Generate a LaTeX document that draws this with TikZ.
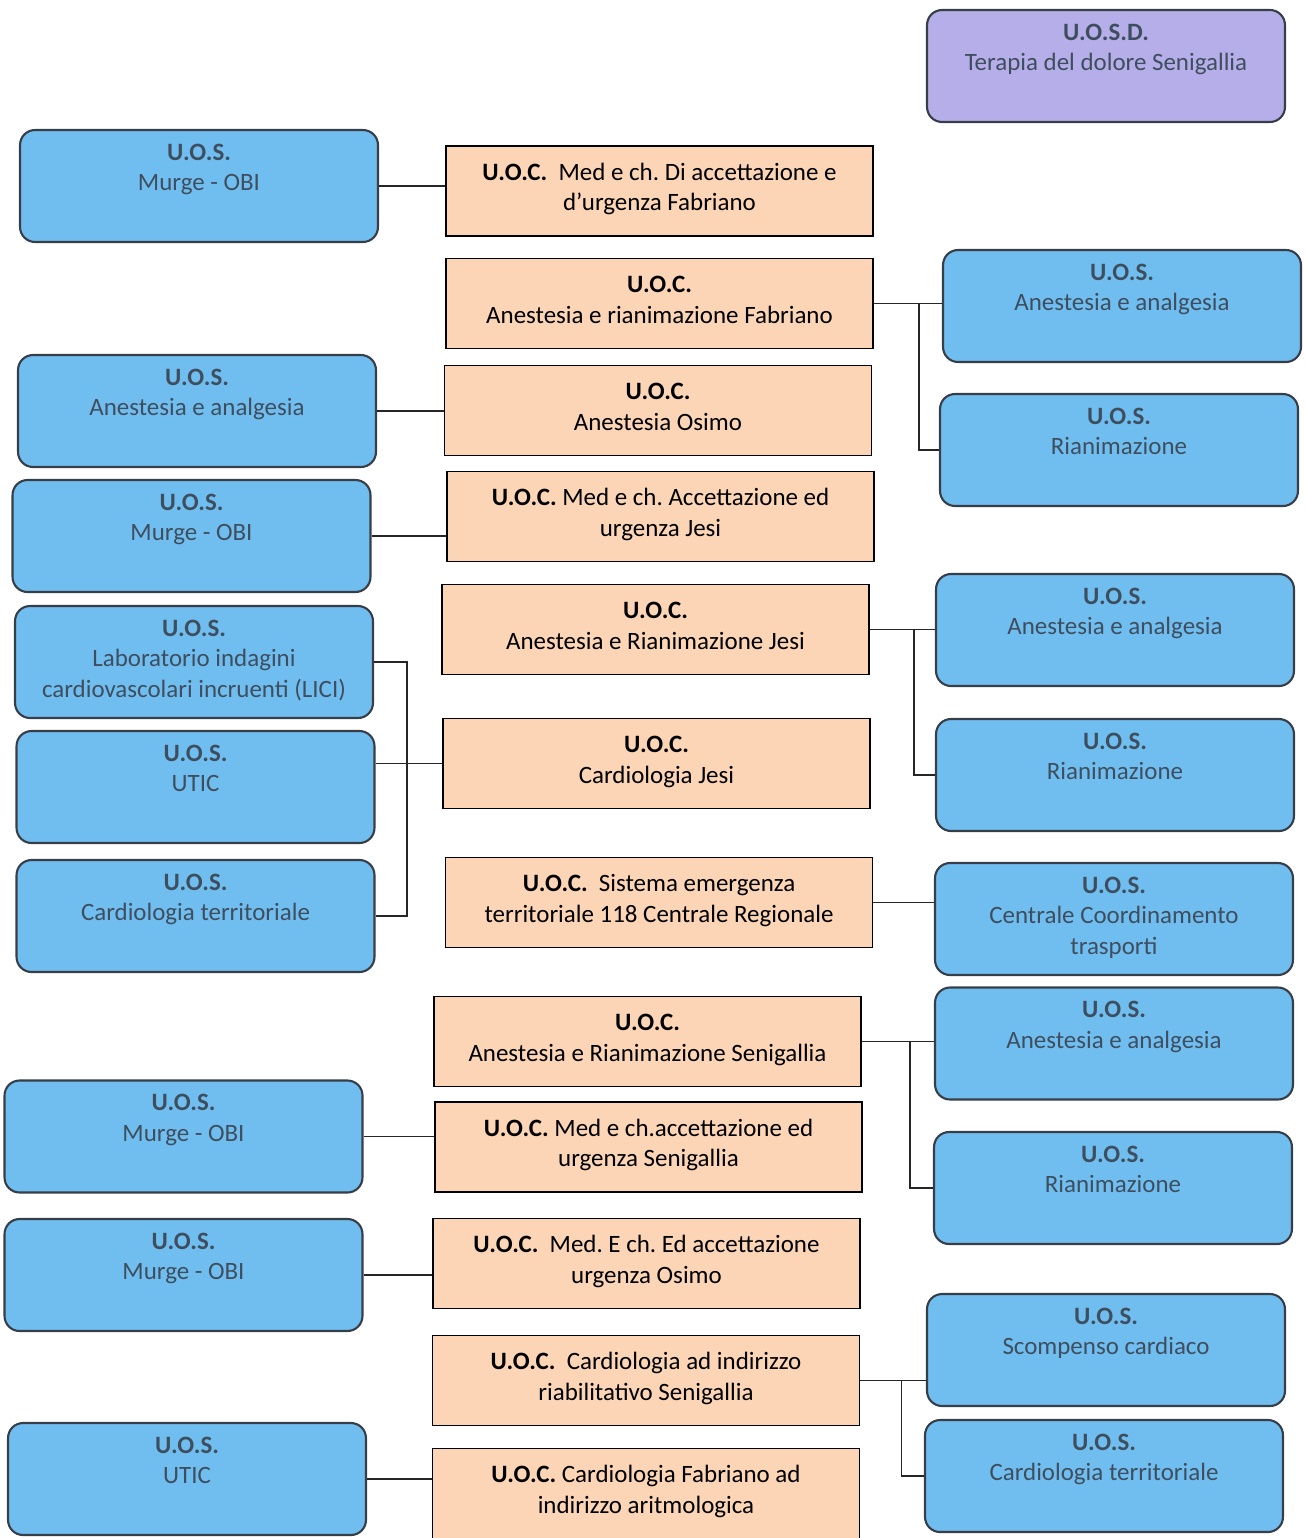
\documentclass[tikz,border=0pt]{standalone}
\usepackage{fontspec}
\setmainfont{Carlito}
\frenchspacing
\definecolor{uosblue}{RGB}{112,190,240}
\definecolor{uosline}{RGB}{55,62,72}
\definecolor{uostext}{RGB}{62,78,94}
\definecolor{uocorange}{RGB}{251,213,181}
\definecolor{uosdviolet}{RGB}{182,174,232}
\usetikzlibrary{arrows.meta, positioning, calc}

\begin{document}
\begin{tikzpicture}[
    x=0.02cm, y=-0.02cm,
    uos/.style={draw=uosline, line width=1.2pt, rounded corners=0.3cm, fill=uosblue, text=uostext,
        text width=7.16cm, align=flush center, inner sep=0pt, text height=0.6cm, text depth=1.64cm,
        font=\fontsize{14.2pt}{17.6pt}\selectfont},
    uosd/.style={uos, fill=uosdviolet},
    uoc/.style={draw=black, line width=1pt, fill=uocorange, text=black,
        text width=8.54cm, align=flush center, inner sep=0pt, text height=0.68cm, text depth=1.12cm,
        font=\fontsize{14.2pt}{17.6pt}\selectfont},
    link/.style={draw=black!85, line width=0.8pt}
]
    \useasboundingbox (0,0) rectangle (1305,1538);

    % Top right unit
    \node[uosd] (dolore) at (1106,66) {\textbf{U.O.S.D.}\\Terapia del dolore Senigallia};

    % U.O.C. column
    \node[uoc] (accfab) at (659.5,191) {\textbf{U.O.C.}\ \ Med e ch. Di accettazione e\\d’urgenza Fabriano};
    \node[uoc] (anefab) at (659.5,303.5) {\textbf{U.O.C.}\\Anestesia e rianimazione Fabriano};
    \node[uoc] (aneosi) at (658,410.5) {\textbf{U.O.C.}\\Anestesia Osimo};
    \node[uoc] (accjes) at (660.5,516.5) {\textbf{U.O.C.} Med e ch. Accettazione ed\\urgenza Jesi};
    \node[uoc] (anejes) at (655.5,629.5) {\textbf{U.O.C.}\\Anestesia e Rianimazione Jesi};
    \node[uoc] (carjes) at (656.5,763.5) {\textbf{U.O.C.}\\Cardiologia Jesi};
    \node[uoc] (emerg) at (659,902.5) {\textbf{U.O.C.}\ \ Sistema emergenza\\territoriale 118 Centrale Regionale};
    \node[uoc] (anesen) at (647.5,1041.5) {\textbf{U.O.C.}\\Anestesia e Rianimazione Senigallia};
    \node[uoc] (accsen) at (648.5,1147) {\textbf{U.O.C.} Med e ch.accettazione ed\\urgenza Senigallia};
    \node[uoc] (accosi) at (646.5,1263.5) {\textbf{U.O.C.}\ \ Med. E ch. Ed accettazione\\urgenza Osimo};
    \node[uoc] (riasen) at (646,1380.5) {\textbf{U.O.C.}\ \ Cardiologia ad indirizzo\\riabilitativo Senigallia};
    \node[uoc] (aritfab) at (646,1493.5) {\textbf{U.O.C.} Cardiologia Fabriano ad\\indirizzo aritmologica};

    % U.O.S. on the left
    \node[uos] (obifab) at (199,186) {\textbf{U.O.S.}\\Murge - OBI};
    \node[uos] (analosi) at (197,411) {\textbf{U.O.S.}\\Anestesia e analgesia};
    \node[uos] (obijes) at (191.5,536) {\textbf{U.O.S.}\\Murge - OBI};
    \node[uos] (lici) at (194,662) {\textbf{U.O.S.}\\Laboratorio indagini\\cardiovascolari incruenti (LICI)};
    \node[uos] (uticjes) at (195.5,787) {\textbf{U.O.S.}\\UTIC};
    \node[uos] (terjes) at (195.5,916) {\textbf{U.O.S.}\\Cardiologia territoriale};
    \node[uos] (obisen) at (183.5,1136.5) {\textbf{U.O.S.}\\Murge - OBI};
    \node[uos] (obiosi) at (183.5,1275) {\textbf{U.O.S.}\\Murge - OBI};
    \node[uos] (uticfab) at (187,1479) {\textbf{U.O.S.}\\UTIC};

    % U.O.S. on the right
    \node[uos] (analfab) at (1122,306) {\textbf{U.O.S.}\\Anestesia e analgesia};
    \node[uos] (rianfab) at (1119,450) {\textbf{U.O.S.}\\Rianimazione};
    \node[uos] (analjes) at (1115,630) {\textbf{U.O.S.}\\Anestesia e analgesia};
    \node[uos] (rianjes) at (1115,775) {\textbf{U.O.S.}\\Rianimazione};
    \node[uos] (trasp) at (1114,919) {\textbf{U.O.S.}\\Centrale Coordinamento\\trasporti};
    \node[uos] (analsen) at (1114,1043.5) {\textbf{U.O.S.}\\Anestesia e analgesia};
    \node[uos] (riansen) at (1113,1188) {\textbf{U.O.S.}\\Rianimazione};
    \node[uos] (scomp) at (1106,1350) {\textbf{U.O.S.}\\Scompenso cardiaco};
    \node[uos] (tersen) at (1104,1476) {\textbf{U.O.S.}\\Cardiologia territoriale};

    % Left links
    \draw[link] (obifab.east) -- (obifab.east -| accfab.west);
    \draw[link] (analosi.east) -- (analosi.east -| aneosi.west);
    \draw[link] (obijes.east) -- (obijes.east -| accjes.west);
    \draw[link] (lici.east) -- ++(33,0) |- (terjes.east);
    \draw[link] (carjes.west) -- (carjes.west -| uticjes.east);
    \draw[link] (obisen.east) -- (obisen.east -| accsen.west);
    \draw[link] (obiosi.east) -- (obiosi.east -| accosi.west);
    \draw[link] (uticfab.east) -- (uticfab.east -| aritfab.west);

    % Right links
    \draw[link] (anefab.east) -- (anefab.east -| analfab.west);
    \draw[link] ([xshift=0.9cm]anefab.east) |- (rianfab.west);
    \draw[link] (anejes.east) -- (anejes.east -| analjes.west);
    \draw[link] ([xshift=0.88cm]anejes.east) |- (rianjes.west);
    \draw[link] (emerg.east) -- (emerg.east -| trasp.west);
    \draw[link] (anesen.east) -- (anesen.east -| analsen.west);
    \draw[link] ([xshift=0.96cm]anesen.east) |- (riansen.west);
    \draw[link] (riasen.east) -- (riasen.east -| scomp.west);
    \draw[link] ([xshift=0.82cm]riasen.east) |- (tersen.west);
\end{tikzpicture}
\end{document}
